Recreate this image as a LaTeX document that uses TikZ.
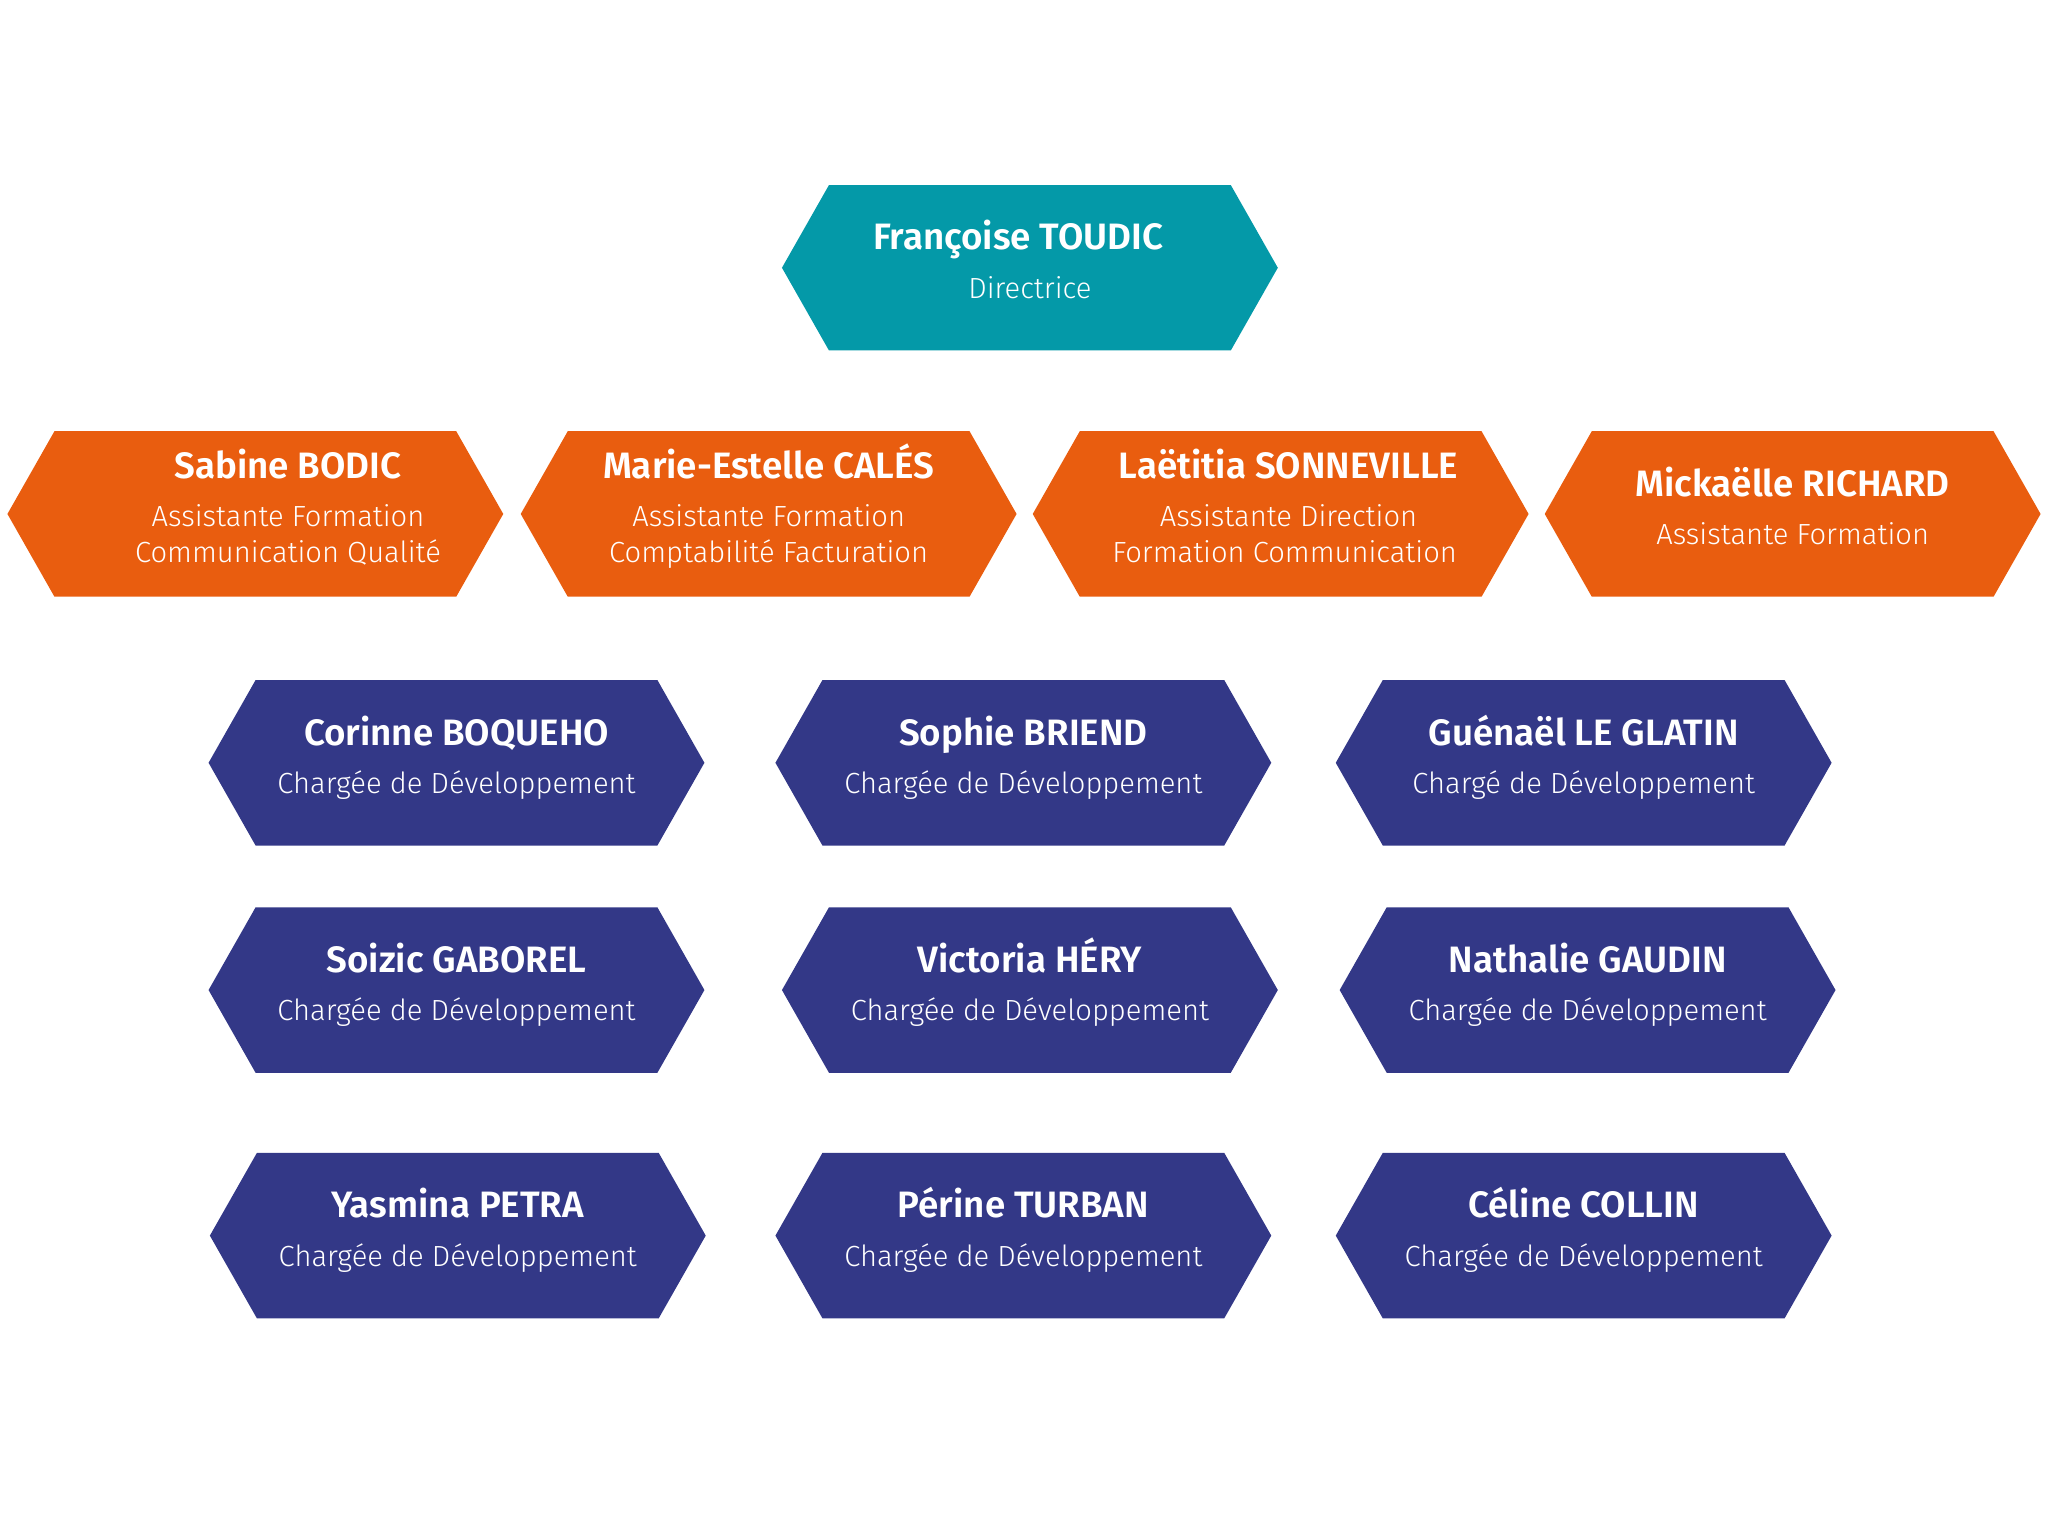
\documentclass[tikz,border=0pt]{standalone}
\usepackage{fontspec}
\setmainfont{Fira Sans Light}[BoldFont={Fira Sans SemiBold}]
\usetikzlibrary{backgrounds}

\definecolor{directrice}{HTML}{0499A8}
\definecolor{assistante}{HTML}{E95D0F}
\definecolor{chargee}{HTML}{333887}

\tikzset{
  person/.style={minimum width=6.14cm,minimum height=2.52cm,inner sep=0pt,
    align=center,text=white,font=\fontsize{12.7}{15.4}\selectfont},
}
% nom en gras, puis fonction
\newcommand{\who}[2]{{\fontsize{16}{18}\selectfont\bfseries\vphantom{Éy}#1}\\[5.7pt]#2\rule[-9.5pt]{0pt}{1pt}}

\begin{document}
\begin{tikzpicture}[x=0.02cm,y=-0.02cm]
  \useasboundingbox (0,0) rectangle (1568,1176);

  % direction
  \node[person] (toudic) at (788.5,205) {\who{\hspace*{-0.36cm}Françoise TOUDIC}{Directrice}};

  % assistantes
  \node[person] (bodic) at (195.5,393.5)
    {\who{\hspace*{1cm}Sabine BODIC}{\hspace*{1cm}Assistante Formation\\\hspace*{1cm}Communication Qualité}};
  \node[person] (cales) at (588.5,393.5)
    {\who{Marie-Estelle CALÉS}{Assistante Formation\\Comptabilité Facturation}};
  \node[person] (sonneville) at (980.5,393.5)
    {\who{\hspace*{0.24cm}Laëtitia SONNEVILLE}{\hspace*{0.24cm}Assistante Direction\\\hspace*{0.12cm}Formation Communication}};
  \node[person] (richard) at (1372.5,393.5) {\who{Mickaëlle RICHARD}{Assistante Formation}};

  % chargees de developpement
  \node[person] (boqueho) at (349.5,584) {\who{Corinne BOQUEHO}{Chargée de Développement}};
  \node[person] (briend) at (783.5,584) {\who{Sophie BRIEND}{Chargée de Développement}};
  \node[person] (leglatin) at (1212.5,584) {\who{Guénaël LE GLATIN}{Chargé de Développement}};

  \node[person] (gaborel) at (349.5,758) {\who{Soizic GABOREL}{Chargée de Développement}};
  \node[person] (hery) at (788.5,758) {\who{Victoria HÉRY}{Chargée de Développement}};
  \node[person] (gaudin) at (1215.5,758) {\who{Nathalie GAUDIN}{Chargée de Développement}};

  \node[person] (petra) at (350.5,946) {\who{Yasmina PETRA}{Chargée de Développement}};
  \node[person] (turban) at (783.5,946) {\who{Périne TURBAN}{Chargée de Développement}};
  \node[person] (collin) at (1212.5,946) {\who{Céline COLLIN}{Chargée de Développement}};

  % hexagones
  \begin{scope}[on background layer]
    \foreach \n/\c in {toudic/directrice,bodic/assistante,cales/assistante,
        sonneville/assistante,richard/assistante,boqueho/chargee,briend/chargee,
        leglatin/chargee,gaborel/chargee,hery/chargee,gaudin/chargee,
        petra/chargee,turban/chargee,collin/chargee}
      \fill[\c] (\n.north west) -- (\n.north east) -- ([xshift=0.72cm]\n.east)
        -- (\n.south east) -- (\n.south west) -- ([xshift=-0.72cm]\n.west) -- cycle;
  \end{scope}
\end{tikzpicture}
\end{document}
